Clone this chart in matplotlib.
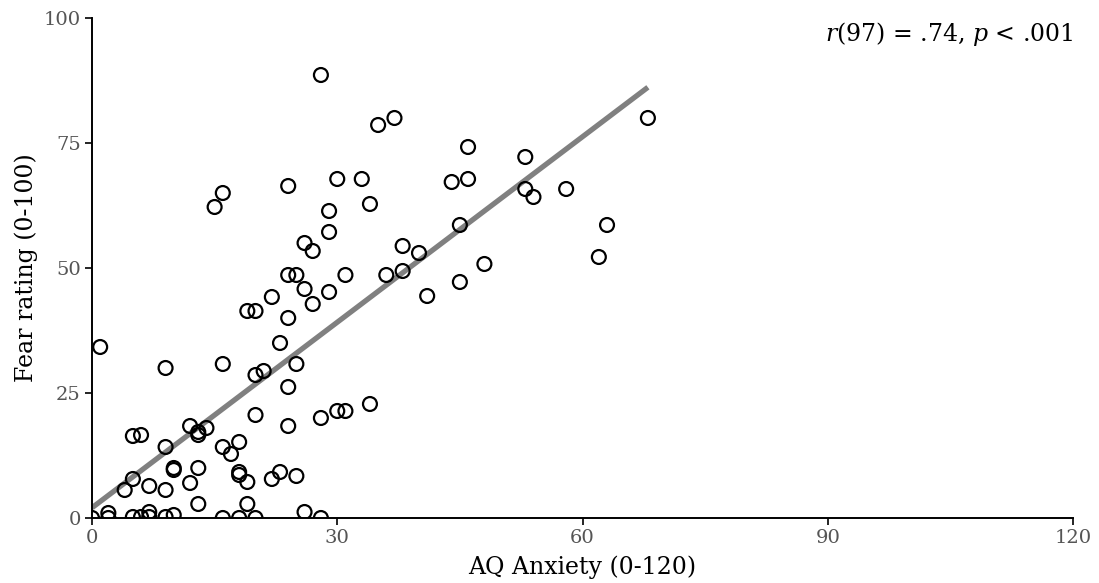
import numpy as np
import matplotlib
matplotlib.use("Agg")
import matplotlib.pyplot as plt

aq_anxiety = [0, 1, 2, 2, 4, 5, 6, 5, 5, 6, 7, 7, 7, 9, 9, 9, 9, 10, 10, 10,
              12, 12, 13, 13, 13, 13, 14, 15, 16, 16, 16, 16, 17, 18, 18, 18, 18,
              19, 20, 19, 19, 20, 21, 20, 20, 22, 22, 23, 23, 24, 24, 25, 24, 24,
              24, 25, 25, 26, 26, 26, 27, 27, 28, 28, 28, 29, 29, 29, 30, 30, 31,
              31, 33, 34, 34, 35, 37, 36, 38, 38, 40, 41, 44, 45, 45, 46, 46, 48,
              53, 53, 54, 58, 62, 63, 68]
fear_rating = [0, 34.2, 1, 0, 5.6, 16.4, 16.6, 7.8, 0.2, 0.2, 6.4, 1.2, 0.2, 30, 14.2,
               5.6, 0.2, 10, 9.6, 0.6, 18.4, 7, 16.6, 17.2, 10, 2.8, 18, 62.2, 65,
               30.8, 14.2, 0, 12.8, 15.2, 9.2, 8.6, 0, 41.4, 41.4, 7.2, 2.8, 28.6,
               29.4, 20.6, 0, 44.2, 7.8, 9.2, 35, 66.4, 48.6, 48.6, 40, 26.2, 18.4,
               30.8, 8.4, 55, 45.8, 1.2, 53.4, 42.8, 88.6, 20, 0, 61.4, 57.2, 45.2,
               67.8, 21.4, 21.4, 48.6, 67.8, 62.8, 22.8, 78.6, 80, 48.6, 54.4, 49.4,
               53, 44.4, 67.2, 58.6, 47.2, 74.2, 67.8, 50.8, 72.2, 65.8, 64.2, 65.8,
               52.2, 58.6, 80]
x_ticks = [0, 30, 60, 90, 120]
y_ticks = [0, 25, 50, 75, 100]
stat_label = r"$r$(97) = .74, $p$ < .001"

plt.rcParams['mathtext.fontset'] = 'dejavuserif'
plt.rcParams['font.family'] = ['DejaVu Serif']

fig = plt.figure(figsize=(10.99, 5.83), dpi=100)
ax = fig.add_axes([92/1099, 65/583, (1073-92)/1099, 500/583])

x = np.array(aq_anxiety, dtype=float)
y = np.array(fear_rating, dtype=float)
ax.scatter(x, y, s=100, facecolors='none', edgecolors='black', linewidths=1.6, zorder=3)

slope, intercept = np.polyfit(x, y, 1)
xl = np.array([0, x.max()])
ax.plot(xl, intercept + slope * xl, color='#808080', linewidth=3.8, zorder=2,
        solid_capstyle='butt')

ax.set_xlim(0, 120)
ax.set_ylim(0, 100)
ax.set_xticks(x_ticks)
ax.set_yticks(y_ticks)
for s in ['top', 'right']:
    ax.spines[s].set_visible(False)
for s in ['left', 'bottom']:
    ax.spines[s].set_linewidth(1.4)
ax.tick_params(direction='out', length=5, width=1.2, labelsize=14,
               labelcolor='#555555', pad=3)
ax.set_xlabel('AQ Anxiety (0-120)', fontsize=17, labelpad=6)
ax.set_ylabel('Fear rating (0-100)', fontsize=17, labelpad=4)
ax.text(1.0, 0.995, stat_label, transform=ax.transAxes, ha='right', va='top',
        fontsize=17)

fig.savefig('out.png', dpi=100)
